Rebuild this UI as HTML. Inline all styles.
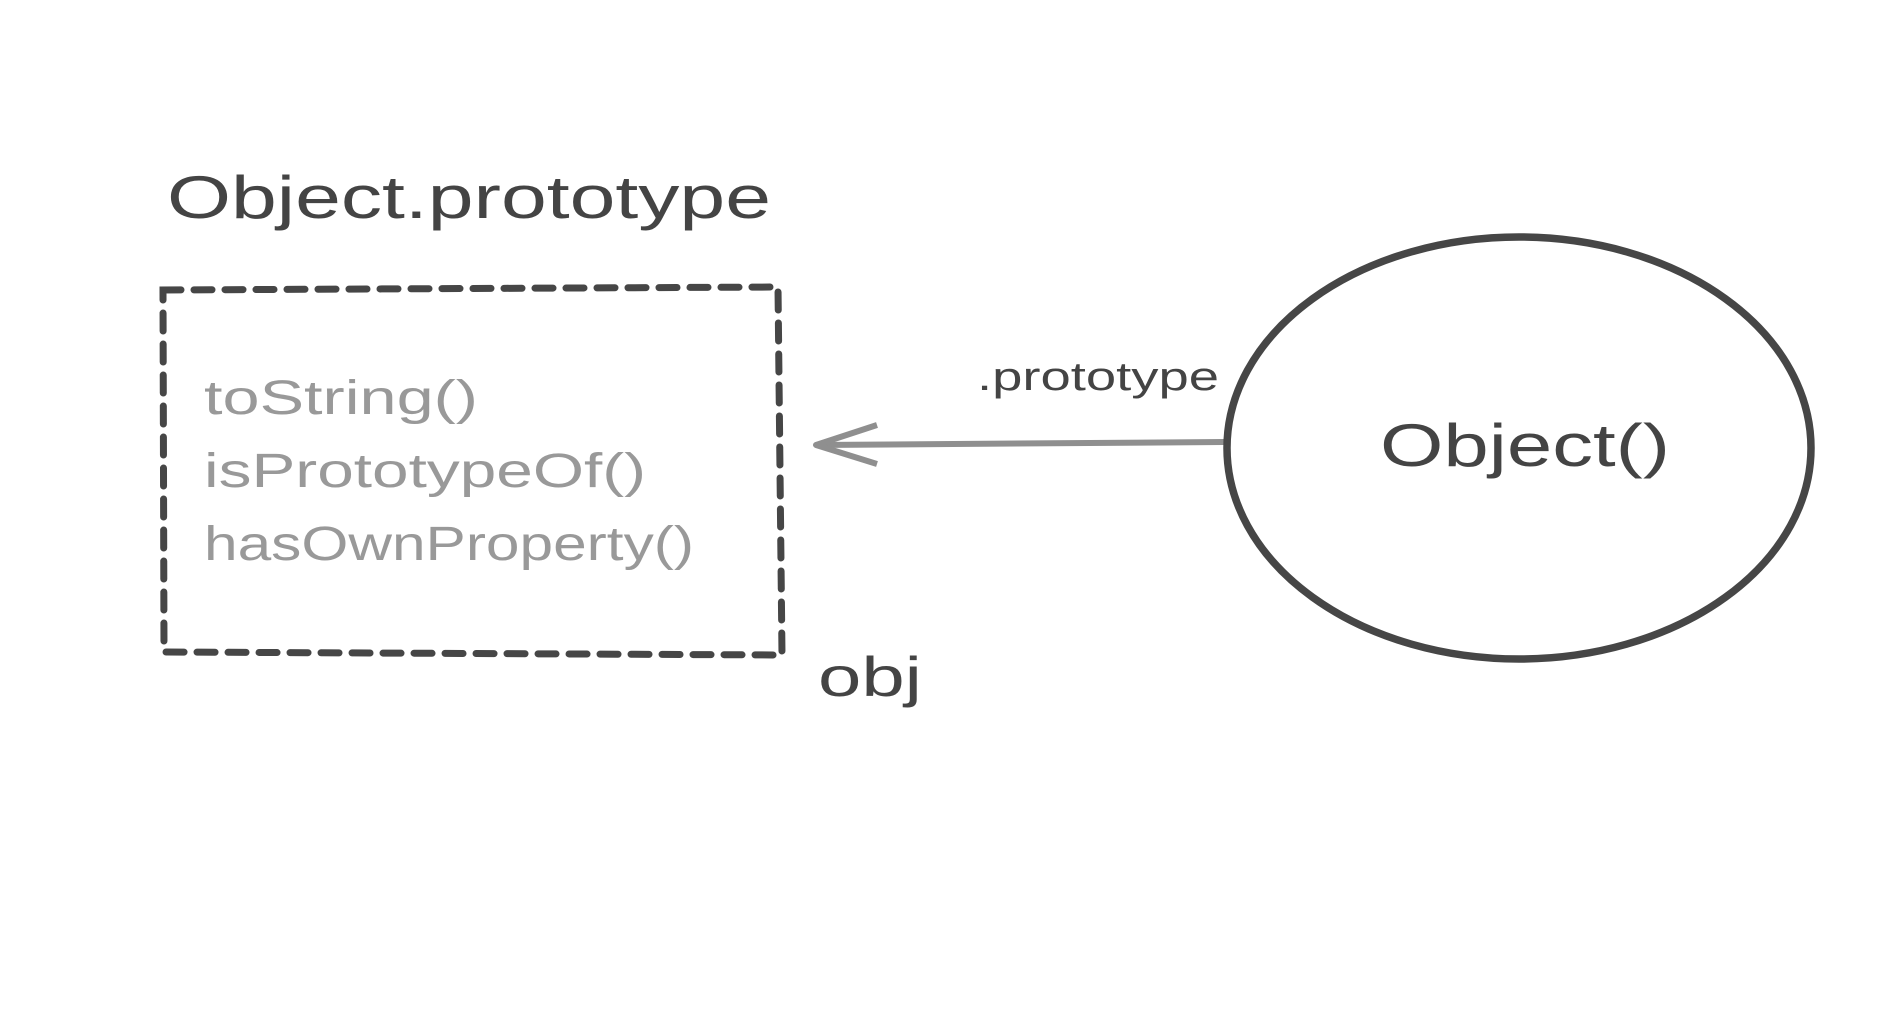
<!DOCTYPE html>
<html><head><meta charset="utf-8"><style>
html,body{margin:0;padding:0;background:#fff;}
svg{display:block;}
text{font-family:"Liberation Sans","DejaVu Sans",sans-serif;}
</style></head><body>
<svg width="1904" height="1022" viewBox="0 0 1904 1022" xmlns="http://www.w3.org/2000/svg">
<rect width="1904" height="1022" fill="#fff"/>
<text x="167" y="218" font-size="60" fill="#444" textLength="604" lengthAdjust="spacingAndGlyphs">Object.prototype</text>
<path d="M163 290 L778 287 L782 655 L164 652 Z" fill="none" stroke="#464646" stroke-width="7" stroke-dasharray="18 13" stroke-linecap="round"/>
<g fill="#999" font-size="48">
<text x="204" y="414" textLength="274" lengthAdjust="spacingAndGlyphs">toString()</text>
<text x="204" y="487" textLength="442" lengthAdjust="spacingAndGlyphs">isPrototypeOf()</text>
<text x="204" y="560" textLength="490" lengthAdjust="spacingAndGlyphs">hasOwnProperty()</text>
</g>
<line x1="1224" y1="442" x2="816" y2="445" stroke="#8f8f8f" stroke-width="6"/>
<path d="M877 425 L816 445 L877 464" fill="none" stroke="#8f8f8f" stroke-width="6" stroke-linejoin="round"/>
<text x="977" y="390" font-size="40" fill="#444" textLength="242" lengthAdjust="spacingAndGlyphs">.prototype</text>
<ellipse cx="1819" cy="449" rx="0" ry="0" fill="none"/>
<ellipse cx="1519" cy="448" rx="292" ry="211" fill="none" stroke="#464646" stroke-width="7.5"/>
<text x="1380" y="466" font-size="60" fill="#444" textLength="290" lengthAdjust="spacingAndGlyphs">Object()</text>
<text x="818" y="696" font-size="56" fill="#444" textLength="104" lengthAdjust="spacingAndGlyphs">obj</text>
</svg>
</body></html>
